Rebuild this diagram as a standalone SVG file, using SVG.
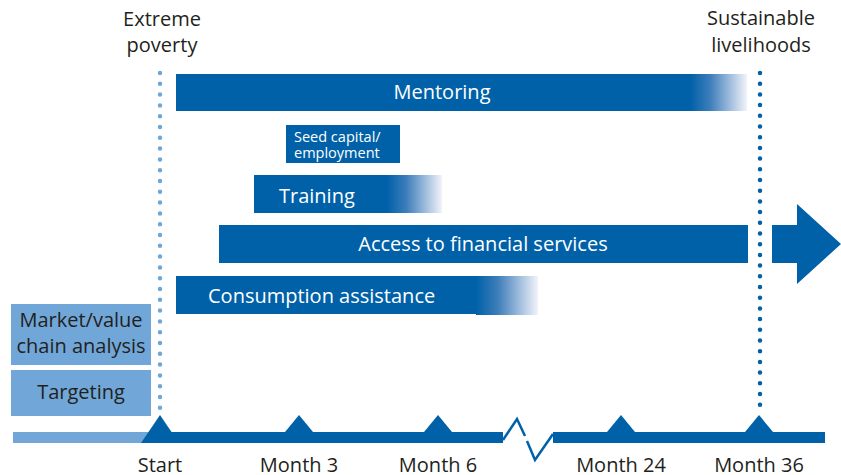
<svg xmlns="http://www.w3.org/2000/svg" width="841" height="475" viewBox="0 0 841 475">
<defs>
<linearGradient id="fade" x1="0" y1="0" x2="1" y2="0">
<stop offset="0" stop-color="#0061A8"/>
<stop offset="0.35" stop-color="#3D7DBA"/>
<stop offset="1" stop-color="#F2F3FA"/>
</linearGradient>
</defs>
<style>
.bar{fill:#0061A8}
.fade{fill:url(#fade)}
.lbox{fill:#70A7D8}
.wt{font-family:"Open Sans","Noto Sans",sans-serif;font-size:20px;fill:#FFFFFF}
.dt{font-family:"Open Sans","Noto Sans",sans-serif;font-size:20px;fill:#231F20}
.st{font-family:"Open Sans","Noto Sans",sans-serif;font-size:14.5px;fill:#FFFFFF}
.dotL{stroke:#70A7D8;stroke-width:4.5;stroke-linecap:round;stroke-dasharray:0 10.8;fill:none}
.dotR{stroke:#0061A8;stroke-width:4.5;stroke-linecap:round;stroke-dasharray:0 10.7;fill:none}
</style>
<rect width="841" height="475" fill="#FFFFFF"/>

<g id="labels-top">
<text class="dt" x="162" y="26" text-anchor="middle">Extreme</text>
<text class="dt" x="162" y="52" text-anchor="middle">poverty</text>
<text class="dt" x="761" y="25" text-anchor="middle">Sustainable</text>
<text class="dt" x="761" y="52" text-anchor="middle">livelihoods</text>
</g>

<g id="markers">
<line class="dotL" x1="160" y1="73" x2="160" y2="413"/>
<line class="dotR" x1="760" y1="73" x2="760" y2="413"/>
</g>

<g id="mentoring">
<rect class="bar" x="176" y="74" width="515" height="37"/>
<rect class="fade" x="690" y="74" width="57" height="37"/>
<text class="wt" x="442" y="99" text-anchor="middle">Mentoring</text>
</g>

<g id="seed-capital">
<rect class="bar" x="286" y="125" width="114" height="38"/>
<text class="st" x="294" y="142">Seed capital/</text>
<text class="st" x="294" y="157.5">employment</text>
</g>

<g id="training">
<rect class="bar" x="254" y="175" width="134" height="38"/>
<rect class="fade" x="387" y="175" width="55" height="38"/>
<text class="wt" x="279" y="203">Training</text>
</g>

<g id="financial-services">
<rect class="bar" x="219" y="225" width="529" height="38"/>
<text class="wt" x="483" y="251" text-anchor="middle">Access to financial services</text>
</g>

<g id="consumption">
<rect class="bar" x="176" y="276" width="301" height="38"/>
<rect class="fade" x="476" y="276" width="62" height="39"/>
<text class="wt" x="208" y="303">Consumption assistance</text>
</g>

<g id="market-analysis">
<rect class="lbox" x="11" y="304" width="140" height="61"/>
<text class="dt" x="81" y="327" text-anchor="middle">Market/value</text>
<text class="dt" x="81" y="353" text-anchor="middle">chain analysis</text>
</g>

<g id="targeting">
<rect class="lbox" x="11" y="370" width="140" height="46"/>
<text class="dt" x="81" y="399" text-anchor="middle">Targeting</text>
</g>

<g id="arrow">
<polygon class="bar" points="772,225 797,225 797,204 841,244 797,284 797,263 772,263"/>
</g>

<g id="connectors">
<rect class="lbox" x="13" y="432" width="148" height="11"/>
<rect class="bar" x="160" y="432" width="343" height="11"/>
<rect class="bar" x="553" y="432" width="272" height="11"/>
<polygon class="bar" points="160,415 179,443 141,443"/>
<polygon class="bar" points="299,415 313,432 285,432"/>
<polygon class="bar" points="438,415 452,432 424,432"/>
<polygon class="bar" points="621,415 635,432 607,432"/>
<polygon class="bar" points="759,415 773,432 745,432"/>
<polyline points="503,440 517,419 525,436" fill="none" stroke="#0061A8" stroke-width="2.5"/>
<polyline points="527,441 535,460 553,434" fill="none" stroke="#0061A8" stroke-width="2.5"/>
</g>

<g id="labels-axis">
<text class="dt" x="160" y="472" text-anchor="middle">Start</text>
<text class="dt" x="299" y="472" text-anchor="middle">Month 3</text>
<text class="dt" x="438" y="472" text-anchor="middle">Month 6</text>
<text class="dt" x="621" y="472" text-anchor="middle">Month 24</text>
<text class="dt" x="759" y="472" text-anchor="middle">Month 36</text>
</g>
</svg>
